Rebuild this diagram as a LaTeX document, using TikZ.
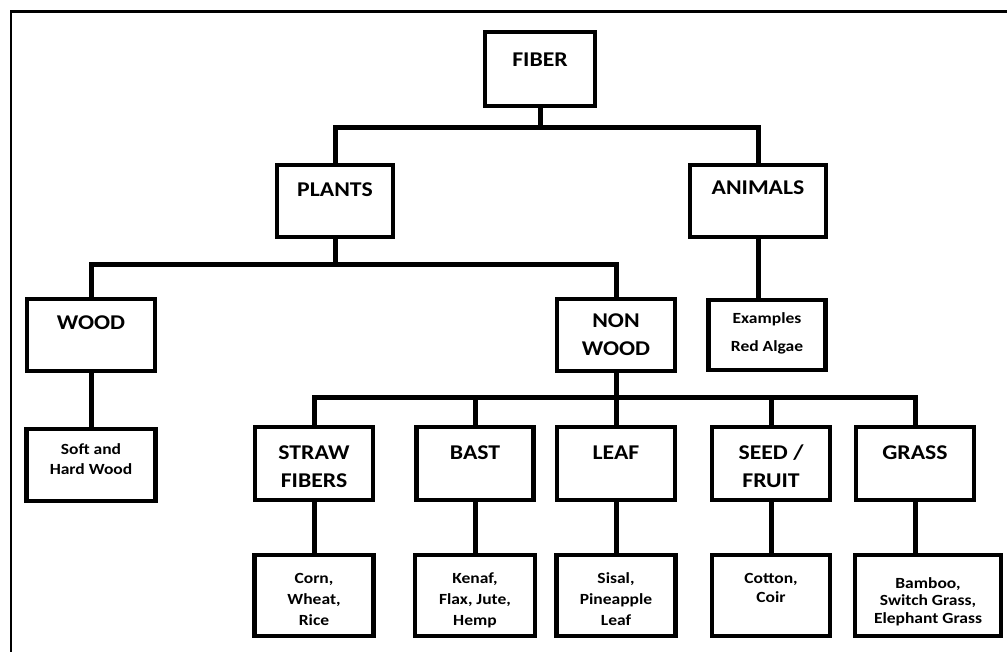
\documentclass[tikz,border=0pt]{standalone}
\usepackage{fontspec}
\setmainfont{Carlito}[FakeStretch=1.13]
\newcommand{\cell}[4]{\parbox[c][#2pt][t]{#1pt}{\centering\rule{0pt}{#3pt}#4\par}}
\tikzset{
  box/.style={draw, line width=4.5pt, inner sep=0pt, outer sep=0pt},
  head/.style={box, font=\fontsize{21}{28}\selectfont\bfseries},
  small/.style={box, font=\fontsize{15.5}{21}\selectfont\bfseries},
  conn/.style={line width=5pt},
  frame/.style={line width=2.5pt},
}
\begin{document}
\begin{tikzpicture}[x=1pt,y=-1pt]
\useasboundingbox (0,0) rectangle (1007,652);
% frame
\coordinate (fa) at (11,652);
\coordinate (fb) at (11,11.5);
\coordinate (fc) at (1007,11.5);
\draw[frame] (fa) -- (fb) -- (fc);
% level 1
\node[head] (fiber) at (540,69) {\cell{110}{74}{35}{FIBER}};
% level 2
\node[head] (plants) at (335,201) {\cell{116}{72}{32}{PLANTS}};
\node[head] (animals) at (758,201) {\cell{136}{72}{30}{ANIMALS}};
% level 3
\node[head] (wood) at (91,335) {\cell{128}{72}{31}{WOOD}};
\node[head] (nonwood) at (616,335) {\cell{118}{72}{29}{NON\\WOOD}};
\node[small, font=\fontsize{15.5}{28}\selectfont\bfseries] (examples) at (767,335) {\cell{117}{70}{24}{Examples\\Red Algae}};
\node[small, font=\fontsize{15.5}{20}\selectfont\bfseries] (soft) at (91,465) {\cell{129}{72}{25}{Soft and\\Hard Wood}};
% level 4
\node[head] (straw) at (314,463.5) {\cell{118}{73}{32}{STRAW\\FIBERS}};
\node[head] (bast) at (475,463.5) {\cell{117}{73}{32}{BAST}};
\node[head] (leaf) at (616,463.5) {\cell{118}{73}{32}{LEAF}};
\node[head] (seed) at (771,463.5) {\cell{118}{73}{32}{SEED /\\FRUIT}};
\node[head] (grass) at (915,463.5) {\cell{118}{73}{32}{GRASS}};
% level 5
\node[small] (corn) at (314,595.5) {\cell{119}{81}{28}{Corn,\\Wheat,\\Rice}};
\node[small] (kenaf) at (475,595.5) {\cell{120}{81}{28}{Kenaf,\\Flax, Jute,\\Hemp}};
\node[small] (sisal) at (616,595.5) {\cell{119}{81}{28}{Sisal,\\Pineapple\\Leaf}};
\node[small, font=\fontsize{15.5}{19}\selectfont\bfseries] (cotton) at (771,595.5) {\cell{118}{81}{28}{Cotton,\\Coir}};
\node[small, font=\fontsize{15.5}{17.5}\selectfont\bfseries] (bamboo) at (928,595.5) {\cell{146}{81}{33}{Bamboo,\\Switch Grass,\\Elephant Grass}};
% connectors
\coordinate (b1) at (540,128);
\draw[conn] (fiber.south) -- (b1);
\draw[conn] (plants.north) |- (b1) -| (animals.north);
\coordinate (b2) at (335,265);
\draw[conn] (plants.south) -- (b2);
\draw[conn] (wood.north) |- (b2) -| (nonwood.north);
\draw[conn] (animals.south) -- (animals.south |- examples.north);
\draw[conn] (wood.south) -- (soft.north);
\coordinate (b3) at (616,397);
\draw[conn] (nonwood.south) -- (leaf.north);
\draw[conn] (straw.north) |- (b3) -| (grass.north);
\draw[conn] (bast.north) -- (bast.north |- b3);
\draw[conn] (seed.north) -- (seed.north |- b3);
\draw[conn] (straw.south) -- (corn.north);
\draw[conn] (bast.south) -- (kenaf.north);
\draw[conn] (leaf.south) -- (sisal.north);
\draw[conn] (seed.south) -- (cotton.north);
\draw[conn] (grass.south) -- (grass.south |- bamboo.north);
\end{tikzpicture}
\end{document}
